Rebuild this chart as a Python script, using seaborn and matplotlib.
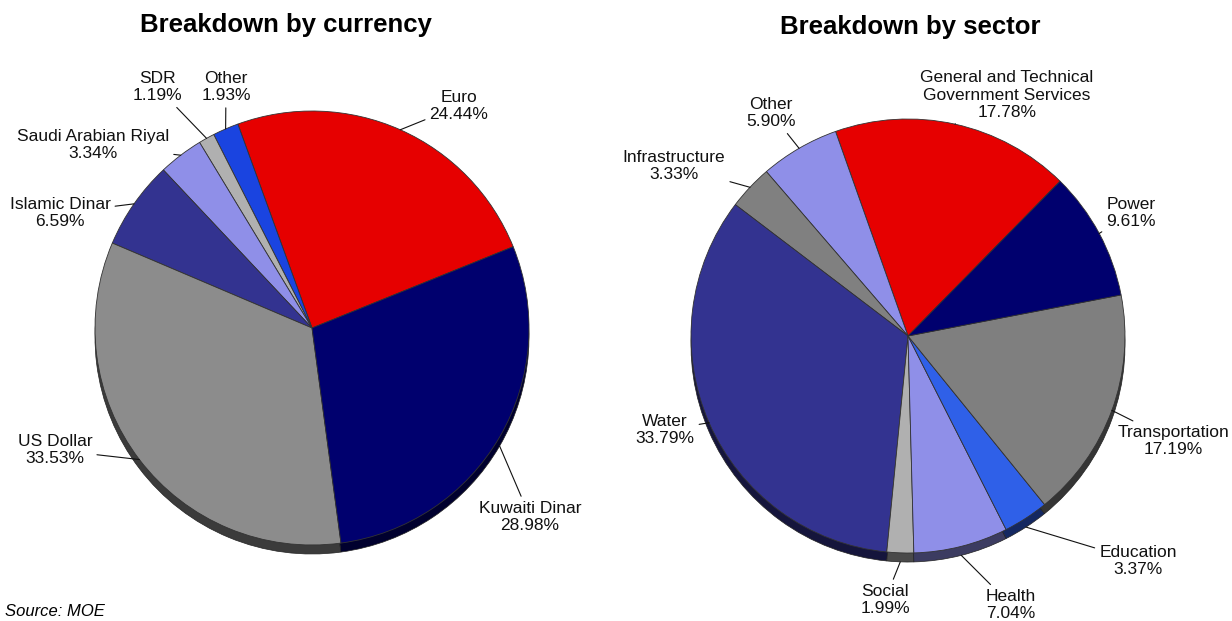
import matplotlib
matplotlib.use("Agg")
import matplotlib.pyplot as plt
import matplotlib.colors as mcolors
import numpy as np
import seaborn as sns

# data
currency_labels = ["Euro", "Other", "SDR", "Saudi Arabian Riyal", "Islamic Dinar",
                   "US Dollar", "Kuwaiti Dinar"]
currency_values = [24.44, 1.93, 1.19, 3.34, 6.59, 33.53, 28.98]
currency_colors = ["#e60000", "#1a44e0", "#b0b0b0", "#8f8fe8", "#333390",
                   "#8c8c8c", "#00006e"]

sector_labels = ["General and Technical\nGovernment Services", "Other", "Infrastructure",
                 "Water", "Social", "Health", "Education", "Transportation", "Power"]
sector_values = [17.78, 5.90, 3.33, 33.79, 1.99, 7.04, 3.37, 17.19, 9.61]
sector_colors = ["#e60000", "#8f8fe8", "#808080", "#333390", "#b0b0b0",
                 "#8f8fe8", "#2f60e8", "#7f7f7f", "#00006e"]

sns.set_style("white")
plt.rcParams["font.family"] = ["Liberation Sans", "DejaVu Sans"]
plt.rcParams["text.color"] = "black"

W, H = 1232, 621
fig = plt.figure(figsize=(W / 100, H / 100), dpi=100)
ax = fig.add_axes([0, 0, 1, 1])


def py(y):
    # pixel row -> data y
    return H - y


def darken(c, f=0.42):
    r, g, b = mcolors.to_rgb(c)
    return (r * f, g * f, b * f)


def draw_pie(values, colors, center, radius, start, depth=9):
    cx, cy = center
    ax.pie(values, colors=[darken(c) for c in colors], startangle=start,
           center=(cx, py(cy) - depth), radius=radius, counterclock=True,
           wedgeprops=dict(edgecolor="#222222", linewidth=0.5), frame=True)
    wedges, _ = ax.pie(values, colors=colors, startangle=start,
                       center=(cx, py(cy)), radius=radius, counterclock=True,
                       wedgeprops=dict(edgecolor="#333333", linewidth=0.6), frame=True)
    return wedges


def label_pie(wedges, labels, values, text_pos, center, radius, drop):
    cx, cy = center
    for w, lab, v, (tx, ty), d in zip(wedges, labels, values, text_pos, drop):
        ang = np.deg2rad((w.theta1 + w.theta2) / 2)
        ax_x = cx + radius * np.cos(ang)
        ax_y = py(cy) + radius * np.sin(ang) - d
        ax.annotate(f"{lab}\n{v:.2f}%", xy=(ax_x, ax_y), xytext=(tx, py(ty)),
                    ha="center", va="center", fontsize=12.5, linespacing=1.2,
                    color="#111111",
                    arrowprops=dict(arrowstyle="-", color="#111111", lw=0.8,
                                    shrinkA=1, shrinkB=0))


# left pie
lc, lr = (312, 328), 217
lw = draw_pie(currency_values, currency_colors, lc, lr, 22)
label_pie(lw, currency_labels, currency_values,
          [(459, 106), (226, 87), (157, 87), (93, 145), (60, 213), (55, 450), (530, 517)],
          lc, lr, [0, 0, 0, 0, 0, 0, 9])

# right pie
rc, rr = (908, 336), 217
rw = draw_pie(sector_values, sector_colors, rc, rr, 45.5)
label_pie(rw, sector_labels, sector_values,
          [(1007, 95), (771, 113), (674, 166), (665, 430), (885, 600),
           (1011, 605), (1138, 561), (1173, 441), (1131, 213)],
          rc, rr, [0, 0, 0, 0, 9, 9, 9, 0, 0])

ax.set_xlim(0, W)
ax.set_ylim(0, H)
ax.set_aspect("equal")
ax.axis("off")

fig.text(286 / W, 1 - 25 / H, "Breakdown by currency", ha="center", va="center",
         fontsize=18.5, fontweight="bold")
fig.text(910 / W, 1 - 27 / H, "Breakdown by sector", ha="center", va="center",
         fontsize=18.5, fontweight="bold")
fig.text(5 / W, 1 - 611 / H, "Source: MOE", ha="left", va="center",
         fontsize=12, style="italic")

fig.savefig("out.png", dpi=100)
